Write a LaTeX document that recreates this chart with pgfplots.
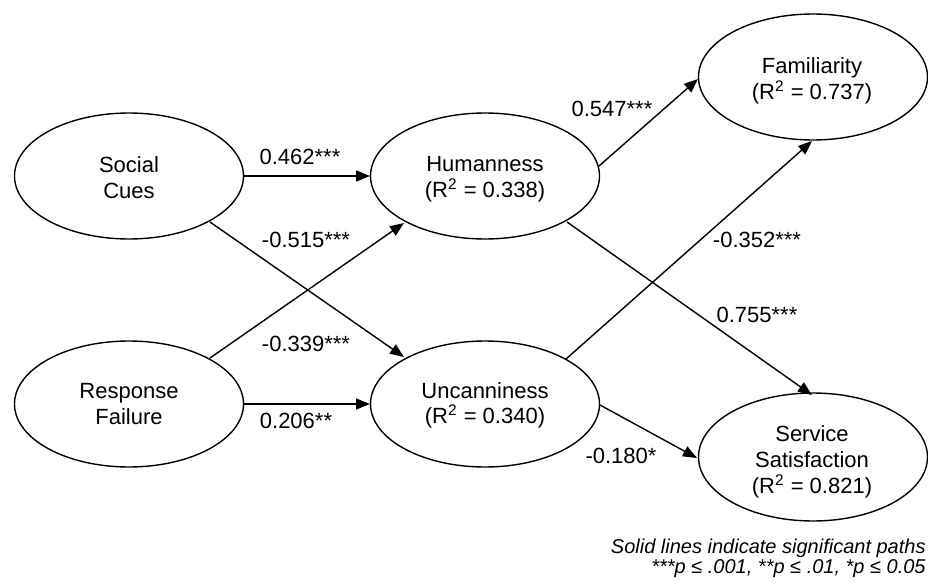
\documentclass[border=0pt]{standalone}
\usepackage{pgfplots}
\pgfplotsset{compat=1.18}
\usepackage{fontspec}
\setmainfont{Liberation Sans}
\usetikzlibrary{shapes.geometric,arrows.meta}
\tikzset{
  arr/.style={black, line width=0.7bp, -{Triangle[length=7bp,width=5.5bp]}},
  lat/.style={draw=black, ellipse, line width=0.7bp, minimum width=114.5bp, minimum height=63bp, inner sep=0pt},
  txt/.style={anchor=base, inner sep=0pt, font=\fontsize{11bp}{13bp}\selectfont},
  note/.style={anchor=base east, inner sep=0pt, font=\fontsize{10bp}{12bp}\selectfont\itshape}}
\begin{document}
\begin{tikzpicture}
\begin{axis}[scale only axis, width=464bp, height=292bp,
  xmin=0, xmax=928, ymin=0, ymax=584, y dir=reverse,
  axis lines=none, clip=false, no markers]
% latent variables
\node[lat] at (axis cs:129,176) {};
\node[lat] at (axis cs:129,404) {};
\node[lat] at (axis cs:485,176) {};
\node[lat] at (axis cs:485,404) {};
\node[lat] at (axis cs:813,77) {};
\node[lat, minimum height=64bp] at (axis cs:813,457) {};
% names
\node[txt] at (axis cs:129,172) {Social};
\node[txt] at (axis cs:129,198) {Cues};
\node[txt] at (axis cs:129,398) {Response};
\node[txt] at (axis cs:129,424) {Failure};
\node[txt] at (axis cs:485,171) {Humanness};
\node[txt] at (axis cs:485,197) {(R\textsuperscript{2} = 0.338)};
\node[txt] at (axis cs:485,398) {Uncanniness};
\node[txt] at (axis cs:485,423) {(R\textsuperscript{2} = 0.340)};
\node[txt] at (axis cs:812,73) {Familiarity};
\node[txt] at (axis cs:812,99) {(R\textsuperscript{2} = 0.737)};
\node[txt] at (axis cs:812,441) {Service};
\node[txt] at (axis cs:812,467) {Satisfaction};
\node[txt] at (axis cs:812,493) {(R\textsuperscript{2} = 0.821)};
% paths
\addplot[arr] coordinates {(243,176) (370,176)};
\addplot[arr] coordinates {(210,222) (404,357)};
\addplot[arr] coordinates {(210,358) (404,223)};
\addplot[arr] coordinates {(243,404) (370,404)};
\addplot[arr] coordinates {(599,166) (698,79)};
\addplot[arr] coordinates {(566,359) (812,141)};
\addplot[arr] coordinates {(567,222) (812,395)};
\addplot[arr] coordinates {(600,405) (697,458)};
% coefficients
\node[txt] at (axis cs:300,164) {0.462***};
\node[txt] at (axis cs:306,247) {-0.515***};
\node[txt] at (axis cs:306,351) {-0.339***};
\node[txt] at (axis cs:296,428) {0.206**};
\node[txt] at (axis cs:612,116) {0.547***};
\node[txt] at (axis cs:757,247) {-0.352***};
\node[txt] at (axis cs:757,322) {0.755***};
\node[txt] at (axis cs:621,463) {-0.180*};
% note
\node[note] at (axis cs:926,553) {Solid lines indicate significant paths};
\node[note] at (axis cs:926,573) {***p ≤ .001, **p ≤ .01, *p ≤ 0.05};
\end{axis}
\pgfresetboundingbox
\path (current axis.south west) rectangle (current axis.north east);
\end{tikzpicture}
\end{document}
